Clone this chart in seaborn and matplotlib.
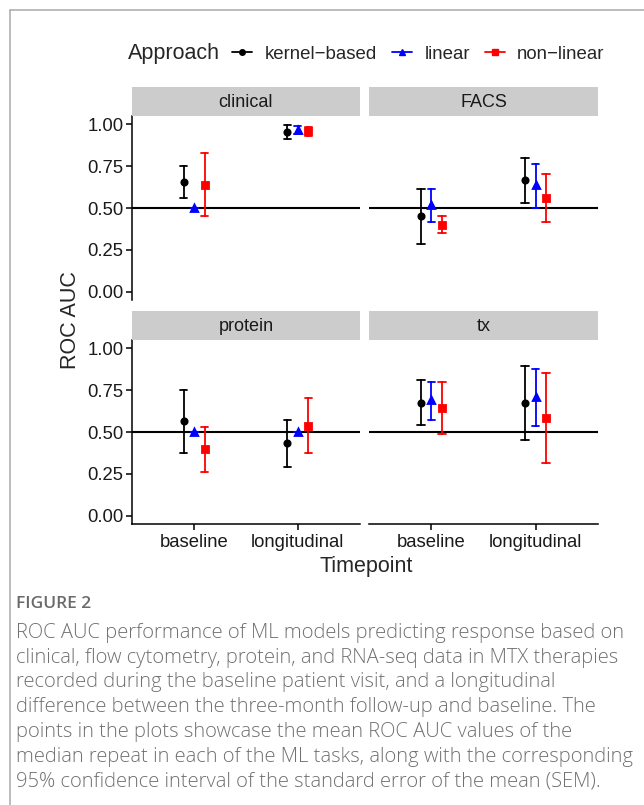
import numpy as np
import pandas as pd
import matplotlib
matplotlib.use("Agg")
import matplotlib.pyplot as plt
from matplotlib.lines import Line2D
import seaborn as sns

# ---------------- data ----------------
panels = ["clinical", "FACS", "protein", "tx"]
timepoints = ["baseline", "longitudinal"]
approaches = ["kernel-based", "linear", "non-linear"]
legend_labels = ["kernel\u2212based", "linear", "non\u2212linear"]
colors = ["black", "#0000FF", "#FF0000"]
markers = ["o", "^", "s"]

# order: clinical-baseline, clinical-longitudinal, FACS-b, FACS-l, protein-b, protein-l, tx-b, tx-l
kernel_mean = [0.655, 0.957, 0.450, 0.665, 0.564, 0.432, 0.676, 0.674]
kernel_lo   = [0.562, 0.912, 0.287, 0.532, 0.374, 0.292, 0.542, 0.454]
kernel_hi   = [0.749, 0.997, 0.613, 0.798, 0.750, 0.572, 0.810, 0.894]
linear_mean = [0.500, 0.967, 0.516, 0.635, 0.500, 0.500, 0.690, 0.710]
linear_lo   = [0.500, 0.940, 0.414, 0.500, 0.500, 0.500, 0.574, 0.534]
linear_hi   = [0.500, 0.991, 0.613, 0.761, 0.500, 0.500, 0.796, 0.874]
nonlin_mean = [0.639, 0.959, 0.400, 0.560, 0.396, 0.536, 0.644, 0.584]
nonlin_lo   = [0.450, 0.930, 0.351, 0.414, 0.258, 0.374, 0.488, 0.316]
nonlin_hi   = [0.830, 0.985, 0.450, 0.703, 0.532, 0.702, 0.800, 0.850]

y_ticks = [0.00, 0.25, 0.50, 0.75, 1.00]
y_ticklabels = ["0.00", "0.25", "0.50", "0.75", "1.00"]

caption_head = "FIGURE 2"
caption_lines = [
    "ROC AUC performance of ML models predicting response based on",
    "clinical, flow cytometry, protein, and RNA-seq data in MTX therapies",
    "recorded during the baseline patient visit, and a longitudinal",
    "difference between the three-month follow-up and baseline. The",
    "points in the plots showcase the mean ROC AUC values of the",
    "median repeat in each of the ML tasks, along with the corresponding",
    "95% confidence interval of the standard error of the mean (SEM).",
]

# long table: each group has lo / mean / hi -> median = mean, 100% interval = lo..hi
rows = []
series = {
    "kernel-based": (kernel_lo, kernel_mean, kernel_hi),
    "linear": (linear_lo, linear_mean, linear_hi),
    "non-linear": (nonlin_lo, nonlin_mean, nonlin_hi),
}
for appr, (lo, mid, hi) in series.items():
    k = 0
    for p in panels:
        for t in timepoints:
            for v in (lo[k], mid[k], hi[k]):
                rows.append({"panel": p, "Timepoint": t, "Approach": appr, "auc": v})
            k += 1
df = pd.DataFrame(rows)

# ---------------- figure ----------------
sns.set_theme(style="white")
plt.rcParams["font.family"] = ["Liberation Sans", "DejaVu Sans"]

W, H = 644, 805
fig = plt.figure(figsize=(W / 100, H / 100), dpi=100)

def fx(px):
    return px / W

def fy(py):
    return 1 - py / H

tick_fs = 13.3
strip_fs = 13.0
title_fs = 15.5
legend_fs = 13.4

panel_boxes = {
    "clinical": (132, 360, 116, 300),
    "FACS": (369, 598, 116, 300),
    "protein": (132, 360, 340, 524),
    "tx": (369, 598, 340, 524),
}

for i, p in enumerate(panels):
    x0, x1, y0, y1 = panel_boxes[p]
    ax = fig.add_axes([fx(x0), fy(y1), fx(x1 - x0), (y1 - y0) / H])
    sub = df[df["panel"] == p]
    ax.axhline(0.5, color="black", lw=1.5, zorder=1.5)
    sns.pointplot(
        data=sub, x="Timepoint", y="auc", hue="Approach",
        order=timepoints, hue_order=approaches,
        palette=colors, markers=markers, linestyle="none",
        dodge=0.2, estimator="median", errorbar=("pi", 100),
        capsize=0.07, err_kws={"linewidth": 1.3},
        markersize=3.8, ax=ax, legend=False,
    )
    ax.set_xlim(-0.6, 1.6)
    ax.set_ylim(-0.05, 1.05)
    ax.set_xlabel("")
    ax.set_ylabel("")
    for s in ["top", "right"]:
        ax.spines[s].set_visible(False)
    left_col = (i % 2 == 0)
    bottom_row = (i >= 2)
    ax.spines["left"].set_visible(left_col)
    ax.spines["bottom"].set_visible(bottom_row)
    ax.spines["left"].set_linewidth(1.1)
    ax.spines["bottom"].set_linewidth(1.1)
    ax.spines["left"].set_color("black")
    ax.spines["bottom"].set_color("black")
    ax.set_yticks(y_ticks)
    if left_col:
        ax.set_yticklabels(y_ticklabels)
        ax.tick_params(axis="y", left=True, length=4, width=1.1, color="black",
                       labelsize=tick_fs, labelcolor="#1a1a1a", pad=2)
    else:
        ax.tick_params(axis="y", left=False, labelleft=False)
    if bottom_row:
        ax.tick_params(axis="x", bottom=True, length=4, width=1.1, color="black",
                       labelsize=tick_fs, labelcolor="#1a1a1a", pad=3)
    else:
        ax.tick_params(axis="x", bottom=False, labelbottom=False)
    ax.set_facecolor("white")
    # strip
    sax = fig.add_axes([fx(x0), fy(y0), fx(x1 - x0), 29 / H])
    sax.set_facecolor("#cccccc")
    sax.set_xticks([])
    sax.set_yticks([])
    for s in sax.spines.values():
        s.set_visible(False)
    sax.text(0.5, 0.48, p, ha="center", va="center", fontsize=strip_fs,
             color="#1a1a1a", transform=sax.transAxes)

# axis titles
fig.text(fx(366), fy(566), "Timepoint", ha="center", va="center", fontsize=title_fs)
fig.text(fx(70), fy(320), "ROC AUC", ha="center", va="center", rotation=90, fontsize=title_fs)

# legend
fig.text(fx(128), fy(54), "Approach", ha="left", va="center", fontsize=title_fs)
handles = [Line2D([0], [0], color=c, marker=m, markersize=4, lw=1.3)
           for c, m in zip(colors, markers)]
fig.legend(handles, legend_labels, loc="center left", bbox_to_anchor=(fx(232), fy(54)),
           ncol=3, frameon=False, fontsize=legend_fs, handlelength=1.07,
           handletextpad=0.68, columnspacing=0.8, borderpad=0, borderaxespad=0)

# frame lines
fig.add_artist(Line2D([fx(9.5), fx(9.5)], [fy(10.5), 0], color="#b0b0b0", lw=1.2))
fig.add_artist(Line2D([fx(9.5), 1], [fy(10.5), fy(10.5)], color="#b0b0b0", lw=1.2))

# caption
cap_font = ["Open Sans", "DejaVu Sans"]
fig.text(fx(16), fy(604), caption_head, ha="left", va="center", fontsize=12.5,
         color="#6a6a6a", family=cap_font, fontweight="semibold")
for j, line in enumerate(caption_lines):
    fig.text(fx(16), fy(633 + j * 24.7), line, ha="left", va="center", fontsize=14.5,
             color="#707070", family=cap_font, fontweight="light")

fig.savefig("out.png", dpi=100)
